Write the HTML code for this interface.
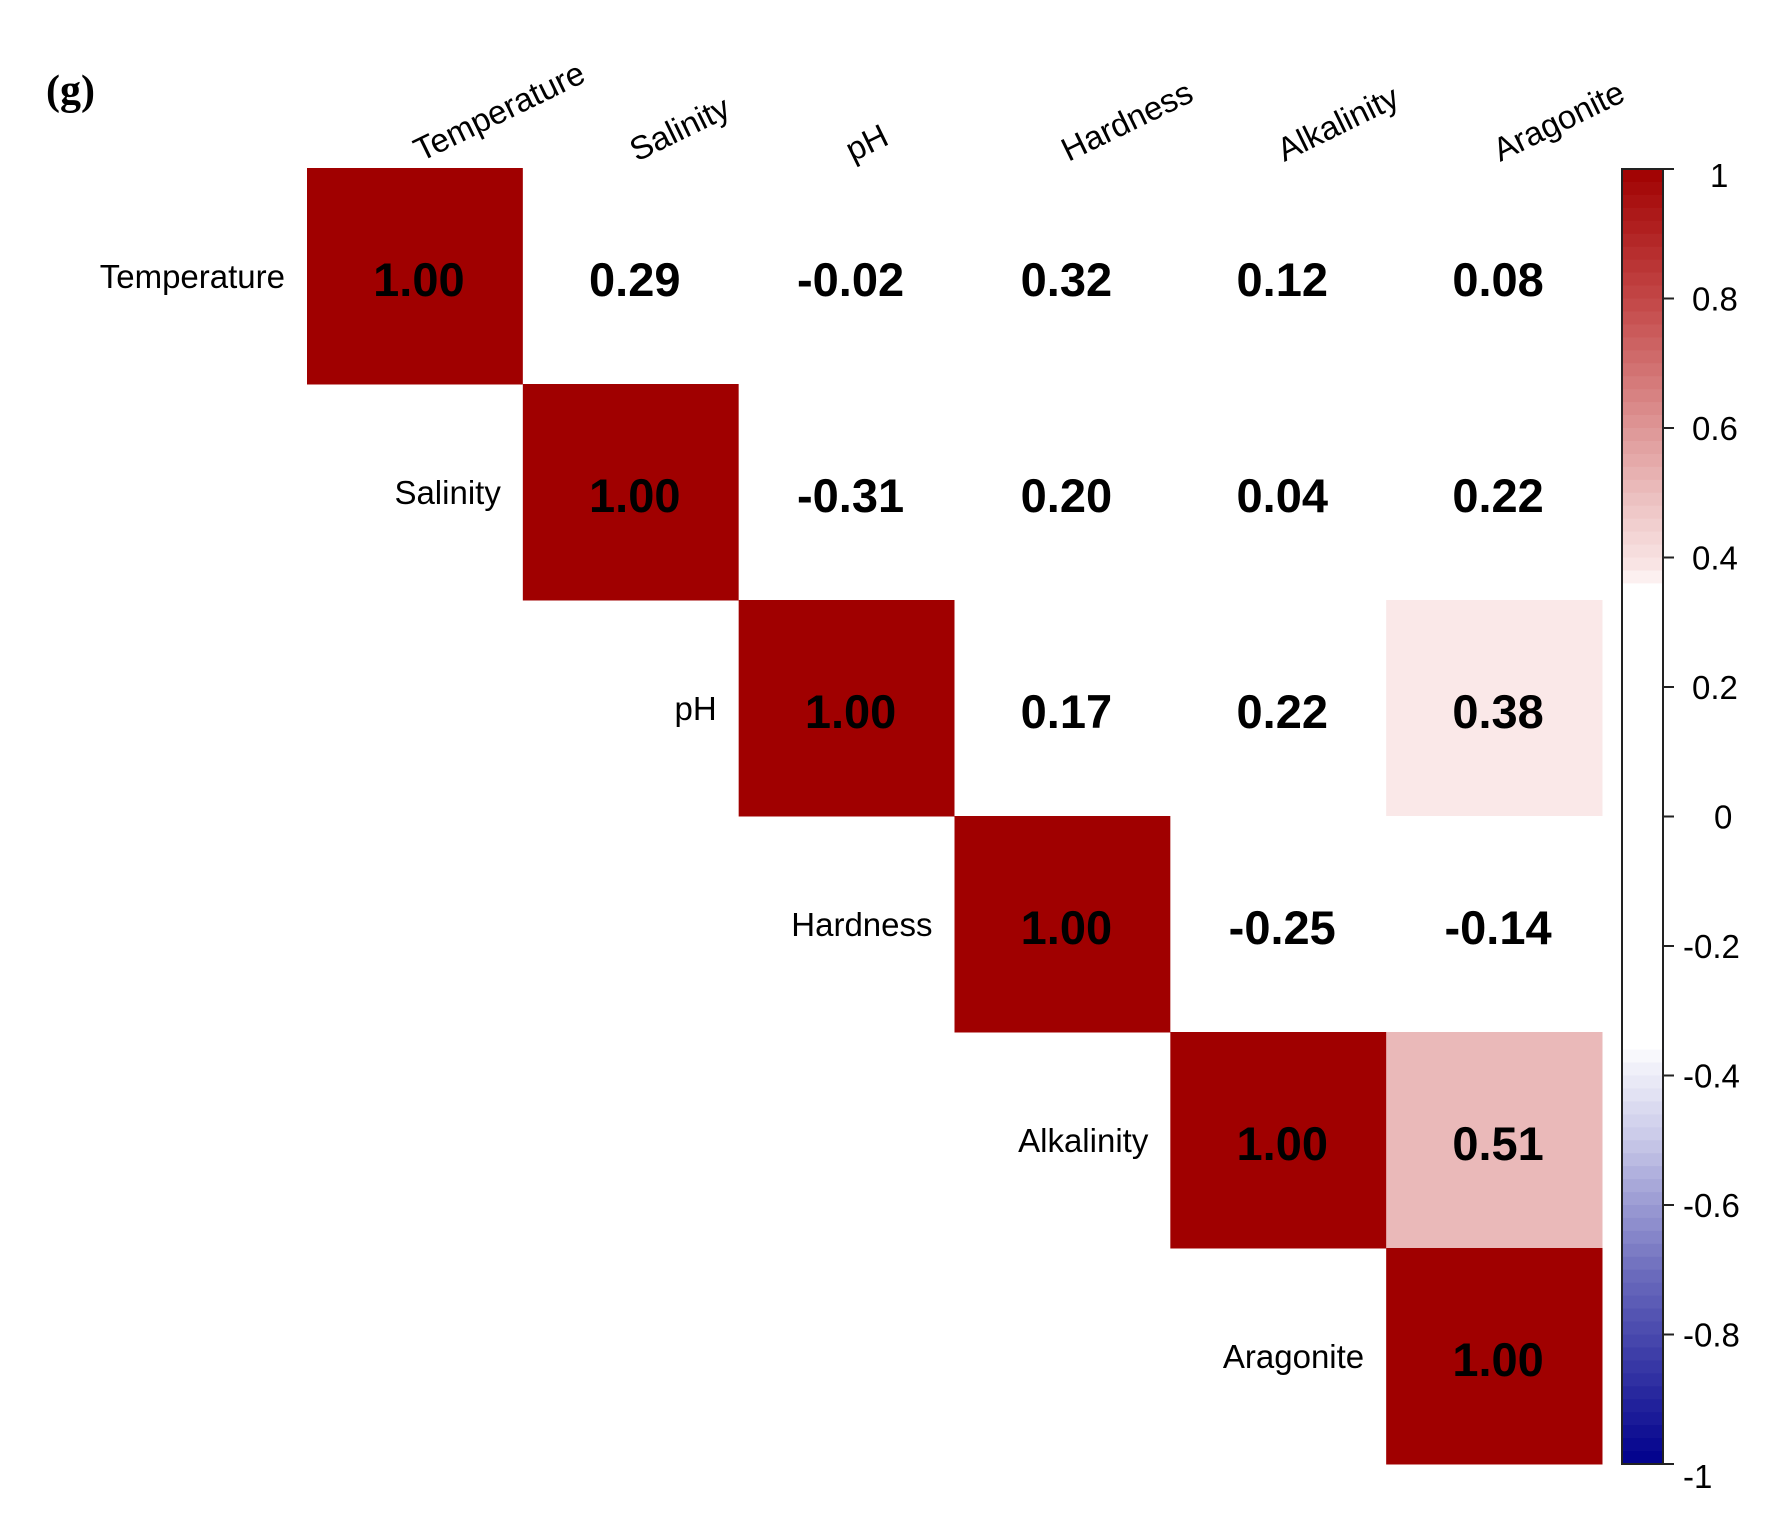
<!DOCTYPE html>
<html><head><meta charset="utf-8"><style>
html,body{margin:0;padding:0;background:#fff}
svg{display:block}
</style></head><body>
<svg id="chart" width="1779" height="1539" viewBox="0 0 1779 1539" xmlns="http://www.w3.org/2000/svg">
<text x="46" y="104" font-family="Liberation Serif, serif" font-weight="bold" font-size="42">(g)</text>
<g id="cells"></g>
<g id="labels"></g>
<g id="cbar"></g>
</svg>
<script>
const variables = ["Temperature","Salinity","pH","Hardness","Alkalinity","Aragonite"];
const row0 = [1.00,0.29,-0.02,0.32,0.12,0.08];
const row1 = [0.29,1.00,-0.31,0.20,0.04,0.22];
const row2 = [-0.02,-0.31,1.00,0.17,0.22,0.38];
const row3 = [0.32,0.20,0.17,1.00,-0.25,-0.14];
const row4 = [0.12,0.04,0.22,-0.25,1.00,0.51];
const row5 = [0.08,0.22,0.38,-0.14,0.51,1.00];
const matrix = [row0,row1,row2,row3,row4,row5];
const cbarTicks = [1,0.8,0.6,0.4,0.2,0,-0.2,-0.4,-0.6,-0.8,-1];
const cbarLabels = ["1","0.8","0.6","0.4","0.2","0","-0.2","-0.4","-0.6","-0.8","-1"];

const NS="http://www.w3.org/2000/svg";
const X0=307,X1=1602,Y0=168,Y1=1464;
const cw=(X1-X0)/variables.length, ch=(Y1-Y0)/variables.length;
const xPos=i=>X0+i*cw, yPos=i=>Y0+i*ch;
const CB={x:1622,w:41,top:169,bot:1464};
const cbY=v=>CB.top+(1-v)/2*(CB.bot-CB.top);

const stops=[[1,[160,0,0]],[0.8,[195,70,70]],[0.6,[222,150,150]],[0.5,[235,189,189]],[0.38,[250,232,232]],[0.35,[255,255,255]],[-0.35,[255,255,255]],[-0.5,[200,200,232]],[-0.7,[110,110,190]],[-1,[0,0,140]]];
function color(v){
  for(let i=0;i<stops.length-1;i++){
    const [a,ca]=stops[i],[b,cb]=stops[i+1];
    if(v<=a&&v>=b){const t=(a-v)/(a-b);
      const c=ca.map((x,k)=>Math.round(x+(cb[k]-x)*t));return `rgb(${c.join(',')})`;}
  }
  return v>0?"rgb(160,0,0)":"rgb(0,0,140)";
}
function mk(tag,attrs,parent){const e=document.createElementNS(NS,tag);for(const k in attrs)e.setAttribute(k,attrs[k]);parent.appendChild(e);return e;}

const gc=document.getElementById('cells'), gl=document.getElementById('labels'), gb=document.getElementById('cbar');
for(let r=0;r<variables.length;r++){
  for(let c=r;c<variables.length;c++){
    const v=matrix[r][c];
    const rect=mk('rect',{x:xPos(c),y:yPos(r),width:cw+0.5,height:ch+0.5,fill:color(v)},gc);
    
    
    const t=mk('text',{x:xPos(c)+cw/2+4,y:yPos(r)+ch/2+20,'text-anchor':'middle','font-family':'Liberation Sans, sans-serif','font-weight':'bold','font-size':47,fill:'#000'},gc);
    t.textContent=v.toFixed(2);
    
    
  }
  const rl=mk('text',{x:xPos(r)-22,y:yPos(r)+ch/2+12,'text-anchor':'end','font-family':'Liberation Sans, sans-serif','font-size':33,fill:'#000'},gl);
  rl.textContent=variables[r];
  
  
  const cx=xPos(r)+cw/2+6, cy=Y0-6;
  const cl=mk('text',{x:cx,y:cy,'font-family':'Liberation Sans, sans-serif','font-size':33,fill:'#000',transform:`rotate(-26 ${cx} ${cy})`},gl);
  cl.textContent=variables[r];
  
  
}
const N=100;
for(let i=0;i<N;i++){
  const v=1-2*(i+0.5)/N;
  const s=mk('rect',{x:CB.x,y:cbY(1-2*i/N),width:CB.w,height:(CB.bot-CB.top)/N+0.6,fill:color(v)},gb);
  
  
}
const frame=mk('rect',{x:CB.x,y:CB.top,width:CB.w,height:CB.bot-CB.top,fill:'none',stroke:'#222','stroke-width':2},gb);


cbarTicks.forEach((v,i)=>{
  const y=cbY(v);
  const tk=mk('line',{x1:CB.x+CB.w,x2:CB.x+CB.w+11,y1:y,y2:y,stroke:'#222','stroke-width':2},gb);
  
  
  const lbl=cbarLabels[i];
  const tx=mk('text',{x:lbl.length===1&&v!==0?1710:(v<0?1683:1692),y:y+12+(v===1?6:0)+(v===-1?12:0),'font-family':'Liberation Sans, sans-serif','font-size':33,fill:'#000'},gb);
  if(v===0){tx.setAttribute('x',1714);}
  tx.textContent=lbl;
  
  
});
</script>
</body></html>
